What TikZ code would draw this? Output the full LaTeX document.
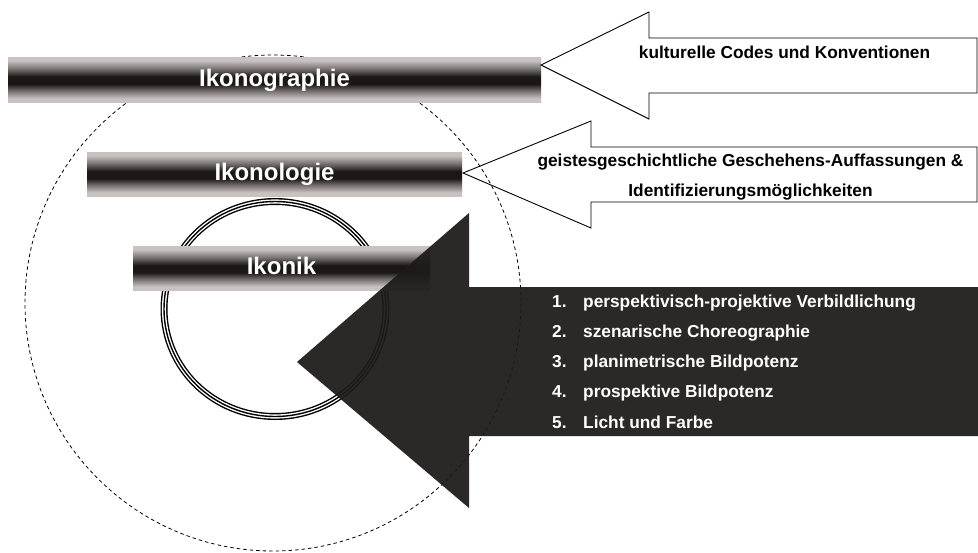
\documentclass[tikz,border=0pt]{standalone}
\usepackage{fontspec}
\setmainfont{Liberation Sans}
\definecolor{barlight}{HTML}{C8C2C0}
\definecolor{barmid}{HTML}{6E6866}
\definecolor{bardark}{HTML}{1A1716}
\definecolor{arrowdark}{HTML}{1E1B1A}
\pgfdeclareverticalshading{cylbar}{100bp}{color(0bp)=(barlight); color(25bp)=(barlight); color(29bp)=(barlight); color(38bp)=(barmid); color(45bp)=(bardark); color(53bp)=(bardark); color(61bp)=(barmid); color(71bp)=(barlight); color(75bp)=(barlight); color(100bp)=(barlight)}
\begin{document}
\begin{tikzpicture}[x=1pt,y=-1pt,
  bar/.style={shading=cylbar, draw=none, inner sep=0pt, text=white,
    font=\fontsize{24}{24}\selectfont\bfseries, text height=17pt, text depth=3.5pt},
  outline/.style={draw=black, line width=0.9pt, line join=miter},
  listtext/.style={text=white, font=\fontsize{17.3}{17.3}\selectfont\bfseries, anchor=base west, inner sep=0pt},
  blacktext/.style={text=black, font=\fontsize{17.3}{17.3}\selectfont\bfseries, anchor=base, inner sep=0pt}]
\useasboundingbox[fill=white] (0,0) rectangle (978,552);

% dashed outer circle
\draw[dash pattern=on 3.5pt off 3pt, line width=0.8pt] (273,303) circle [radius=248];

% triple-line ring
\draw[line width=7pt] (275,309) ellipse [x radius=111, y radius=107.5];
\draw[white, line width=4.2pt] (275,309) ellipse [x radius=111, y radius=107.5];
\draw[line width=1.4pt] (275,309) ellipse [x radius=111, y radius=107.5];

% bars
\node[bar, minimum width=533pt, minimum height=45pt] (ikonographie) at (274.5,79.5) {Ikonographie};
\node[bar, minimum width=375pt, minimum height=44pt] (ikonologie) at (274.5,174) {Ikonologie};
\node[bar, minimum width=297pt, minimum height=44pt] (ikonik) at (281.5,268) {Ikonik};

% white arrows
\draw[outline] (541,65) -- (649,12) -- (649,38) -- (977,38) -- (977,93) -- (649,93) -- (649,119) -- cycle;
\draw[outline] (463,173) -- (591,121) -- (591,147) -- (977,147) -- (977,202) -- (591,202) -- (591,228) -- cycle;

% black arrow
\fill[arrowdark, fill opacity=0.94] (297,362) -- (469,213) -- (469,287) -- (978,287) -- (978,436) -- (469,436) -- (469,508) -- cycle;

% texts
\node[blacktext] (codes) at (784.5,58) {kulturelle Codes und Konventionen};
\node[blacktext] (geist1) at (750.5,166.5) {geistesgeschichtliche Geschehens-Auffassungen \&};
\node[blacktext] (geist2) at (750.5,196.5) {Identifizierungsmöglichkeiten};

\node[listtext] (n1) at (552,307) {1.};
\node[listtext] (t1) at (583,307) {perspektivisch-projektive Verbildlichung};
\node[listtext] (n2) at (552,337.3) {2.};
\node[listtext] (t2) at (583,337.3) {szenarische Choreographie};
\node[listtext] (n3) at (552,367.6) {3.};
\node[listtext] (t3) at (583,367.6) {planimetrische Bildpotenz};
\node[listtext] (n4) at (552,397.9) {4.};
\node[listtext] (t4) at (583,397.9) {prospektive Bildpotenz};
\node[listtext] (n5) at (552,428.2) {5.};
\node[listtext] (t5) at (583,428.2) {Licht und Farbe};
\end{tikzpicture}
\end{document}
